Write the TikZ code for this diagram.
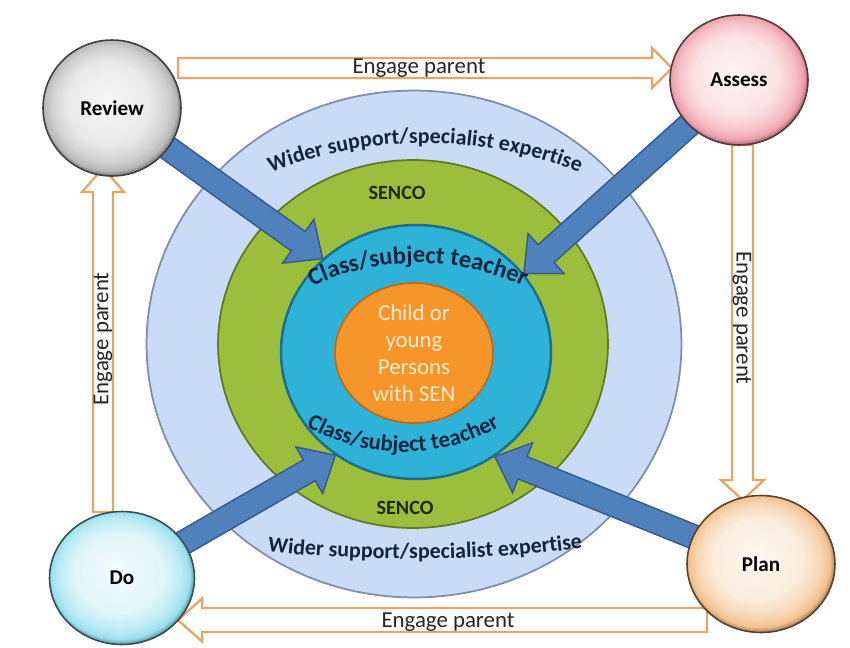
\documentclass[tikz,border=0pt]{standalone}
\usepackage{fontspec}
\setmainfont{Carlito}
\usepackage{xcolor}
\usepackage{tikz}
\usetikzlibrary{calc}
\usetikzlibrary{arrows.meta}
\usetikzlibrary{shapes.geometric}
\usetikzlibrary{decorations.text}

\definecolor{widerblue}{HTML}{C9DBF7}
\definecolor{widerline}{HTML}{7F8FA8}
\definecolor{sencogreen}{HTML}{9BBE3C}
\definecolor{sencoline}{HTML}{5E7A25}
\definecolor{teachcyan}{HTML}{2EB2D8}
\definecolor{teachline}{HTML}{1A6F8C}
\definecolor{childorange}{HTML}{F5952A}
\definecolor{childline}{HTML}{C46A12}
\definecolor{childtext}{HTML}{FBEBD0}
\definecolor{navytext}{HTML}{14233F}
\definecolor{sencotext}{HTML}{1E2A12}
\definecolor{arrblue}{HTML}{4F81BD}
\definecolor{arrline}{HTML}{36598A}
\definecolor{engorange}{HTML}{E5A468}
\definecolor{reviewgray}{HTML}{B8B8B8}
\definecolor{assesspink}{HTML}{EFA0AA}
\definecolor{docyan}{HTML}{98E0EE}
\definecolor{planpeach}{HTML}{F2C08A}

\makeatletter
\pgfdeclareradialshading[tikz@ball]{rim}{\pgfqpoint{-2bp}{3bp}}{%
  color(0bp)=(tikz@ball!12!white);
  color(15bp)=(tikz@ball!30!white);
  color(21bp)=(tikz@ball!65!white);
  color(24bp)=(tikz@ball);
  color(26bp)=(tikz@ball!60!black);
  color(35bp)=(tikz@ball!60!black)}
\makeatother

\pgfdeclarelayer{rings}
\pgfdeclarelayer{arrows}
\pgfsetlayers{rings,arrows,main}

\tikzset{
  stage/.style = {ellipse, draw=#1!35!black, line width=0.9pt, ball color=#1, shading=rim,
                  inner sep=0pt, text=black, font=\bfseries\fontsize{12}{14}\selectfont},
  ring/.style = {ellipse, inner sep=0pt, line width=1pt},
  bluearr/.style = {fill=arrblue, draw=arrline, line width=0.8pt},
  engarr/.style = {fill=white, draw=engorange, line width=1.3pt},
  englabel/.style = {inner sep=0pt, text=black!85, font=\fontsize{13}{15}\selectfont},
  ringlabel/.style = {inner sep=0pt, text=sencotext, font=\bfseries\fontsize{11.5}{13}\selectfont},
}

% #1 style, #2 from, #3 tip, #4 half shaft, #5 half head, #6 head length
\newcommand{\fatarrow}[6][]{%
  \coordinate (hb) at ($(#3)!#6!(#2)$);
  \filldraw[#1] ($(#2)!#4!90:(#3)$) -- ($(hb)!#4!-90:(#2)$) -- ($(hb)!#5!-90:(#2)$) -- (#3)
    -- ($(hb)!#5!90:(#2)$) -- ($(hb)!#4!90:(#2)$) -- ($(#2)!#4!-90:(#3)$) -- cycle;
}

\begin{document}
\begin{tikzpicture}[x=0.02cm, y=-0.02cm]
\useasboundingbox (0,0) rectangle (850,647);

\begin{pgfonlayer}{rings}
\node [ring, fill=widerblue, draw=widerline, minimum width=10.7cm, minimum height=10.14cm] (wider) at (414,344) {};
\node [ring, fill=sencogreen, draw=sencoline, minimum width=7.8cm, minimum height=7.36cm] (senco) at (413,344) {};
\node [ring, fill=teachcyan, draw=teachline, line width=1.4pt, minimum width=5.4cm, minimum height=5.08cm] (teacher) at (416,352) {};
\node [ring, fill=childorange, draw=childline, minimum width=3.16cm, minimum height=2.8cm] (child) at (414,353) {};
\end{pgfonlayer}
\node [align=center, text=childtext, font=\fontsize{13}{15.5}\selectfont] (childlbl) at (child) {Child or\\young\\Persons\\with SEN};

\node [stage=reviewgray, minimum width=2.76cm, minimum height=2.72cm] (Review) at (112,108) {Review};
\node [stage=assesspink, minimum width=2.76cm, minimum height=2.6cm] (Assess) at (739,80) {Assess};
\node [stage=docyan, minimum width=2.9cm, minimum height=2.66cm] (Do) at (122,578) {Do};
\node [stage=planpeach, minimum width=2.96cm, minimum height=2.74cm] (Plan) at (761,564) {Plan};

% ring texts
\path [decorate, decoration={text along path, text align=center,
  text={|\color{navytext}\bfseries\fontsize{12.5}{14}\selectfont|Wider support/specialist expertise}}]
  ($(425,563)+(235:420)$) arc [start angle=235, end angle=305, radius=420];
\path [decorate, decoration={text along path, text align=center,
  text={|\color{navytext}\bfseries\fontsize{14}{16}\selectfont|Class/subject teacher}}]
  ($(418,513)+(225:250)$) arc [start angle=225, end angle=315, radius=250];
\path [decorate, decoration={text along path, text align=center,
  text={|\color{navytext}\bfseries\fontsize{13}{15}\selectfont|Class/subject teacher}}]
  ($(403,257)+(135:195)$) arc [start angle=135, end angle=45, radius=195];
\path [decorate, decoration={text along path, text align=center,
  text={|\color{navytext}\bfseries\fontsize{12.5}{14}\selectfont|Wider support/specialist expertise}}]
  (240,548) .. controls (340,563) and (510,563) .. (610,543);
\node [ringlabel] (sencotop) at (397,193) {SENCO};
\node [ringlabel] (sencobot) at (405,508) {SENCO};

\begin{pgfonlayer}{arrows}
\coordinate (topS) at (178,68);
\coordinate (topT) at (672,68);
\coordinate (rgtS) at (742.5,145);
\coordinate (rgtT) at (742.5,500);
\coordinate (botS) at (707,620);
\coordinate (botT) at (178,620);
\coordinate (lftS) at (103,512);
\coordinate (lftT) at (103,168);
\fatarrow[engarr]{topS}{topT}{0.2cm}{0.4cm}{0.4cm}
\fatarrow[engarr]{rgtS}{rgtT}{0.21cm}{0.43cm}{0.4cm}
\fatarrow[engarr]{botS}{botT}{0.24cm}{0.43cm}{0.48cm}
\fatarrow[engarr]{lftS}{lftT}{0.2cm}{0.42cm}{0.48cm}
\fatarrow[bluearr]{Review}{teacher.135}{0.24cm}{0.54cm}{0.6cm}
\fatarrow[bluearr]{Assess}{teacher.36}{0.24cm}{0.54cm}{0.6cm}
\fatarrow[bluearr]{Do}{teacher.232}{0.24cm}{0.54cm}{0.6cm}
\fatarrow[bluearr]{Plan}{teacher.307}{0.24cm}{0.54cm}{0.6cm}
\end{pgfonlayer}

\node [englabel] (engtop) at (419,68) {Engage parent};
\node [englabel, rotate=-90] (engrgt) at (742,318) {Engage parent};
\node [englabel] (engbot) at (448,622) {Engage parent};
\node [englabel, rotate=90] (englft) at (103,339) {Engage parent};
\end{tikzpicture}
\end{document}
